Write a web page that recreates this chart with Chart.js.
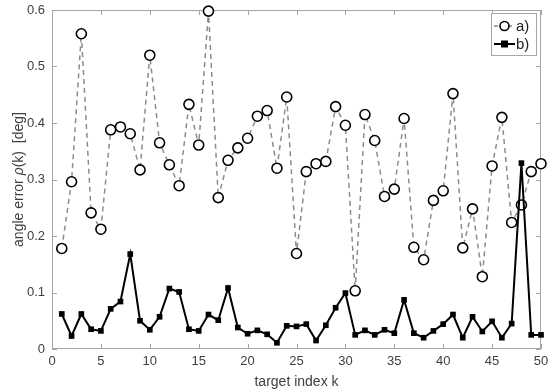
<!DOCTYPE html>
<html><head><meta charset="utf-8">
<script src="https://cdn.jsdelivr.net/npm/chart.js@4.4.1/dist/chart.umd.min.js"></script>
<style>html,body{margin:0;padding:0;background:#fff}#wrap{width:550px;height:391px}</style>
</head><body><div id="wrap"><canvas id="c" width="550" height="391"></canvas></div>
<script>
const targetIndex = Array.from({length:50},(_,i)=>i+1);
const seriesA = [0.178,0.296,0.558,0.241,0.212,0.388,0.393,0.381,0.317,0.520,
                 0.365,0.326,0.289,0.433,0.361,0.598,0.268,0.334,0.356,0.373,
                 0.412,0.422,0.320,0.446,0.169,0.314,0.328,0.332,0.429,0.396,
                 0.103,0.415,0.369,0.270,0.283,0.408,0.180,0.158,0.263,0.280,
                 0.452,0.179,0.248,0.128,0.324,0.410,0.224,0.255,0.314,0.328];
const seriesB = [0.062,0.023,0.062,0.035,0.032,0.071,0.084,0.168,0.050,0.034,
                 0.057,0.107,0.101,0.035,0.032,0.061,0.051,0.108,0.038,0.027,
                 0.033,0.026,0.011,0.041,0.040,0.044,0.015,0.042,0.073,0.099,
                 0.025,0.033,0.025,0.034,0.028,0.087,0.028,0.020,0.032,0.044,
                 0.061,0.020,0.057,0.031,0.049,0.020,0.045,0.329,0.025,0.025];
const seriesNames = ['a)','b)'];
const xTicks = [0,5,10,15,20,25,30,35,40,45,50];
const yTicks = [0,0.1,0.2,0.3,0.4,0.5,0.6];

const FONT = 'Liberation Sans, Arial, sans-serif';
const AXIS_COLOR = '#a6a6a6';
const TEXT_COLOR = '#404040';

const framePlugin = {
  id:'frame',
  beforeDatasetsDraw(chart){
    const {ctx, chartArea:a, scales:{x,y}} = chart;
    ctx.save();
    ctx.strokeStyle = AXIS_COLOR; ctx.lineWidth = 1;
    ctx.strokeRect(a.left+0.5, a.top+0.5, a.right-a.left-1, a.bottom-a.top-1);
    ctx.beginPath();
    const tl = 5;
    xTicks.forEach(v=>{const px=Math.round(x.getPixelForValue(v))+0.5;
      ctx.moveTo(px,a.bottom); ctx.lineTo(px,a.bottom-tl);
      ctx.moveTo(px,a.top); ctx.lineTo(px,a.top+tl);});
    yTicks.forEach(v=>{const py=Math.round(y.getPixelForValue(v))+0.5;
      ctx.moveTo(a.left,py); ctx.lineTo(a.left+tl,py);
      ctx.moveTo(a.right,py); ctx.lineTo(a.right-tl,py);});
    ctx.stroke();
    ctx.restore();
  },
  afterDatasetsDraw(chart){
    const {ctx, chartArea:a} = chart;
    ctx.save();
    // legend box
    const bx=491, by=13, bw=45, bh=42;
    ctx.fillStyle='#fff'; ctx.fillRect(bx,by,bw,bh);
    ctx.strokeStyle=AXIS_COLOR; ctx.lineWidth=1; ctx.strokeRect(bx+0.5,by+0.5,bw,bh);
    let ly = by+13;
    ctx.strokeStyle='#8c8c8c'; ctx.lineWidth=1.5; ctx.setLineDash([4,3]);
    ctx.beginPath(); ctx.moveTo(bx+3,ly); ctx.lineTo(bx+22,ly); ctx.stroke();
    ctx.setLineDash([]);
    ctx.fillStyle='#fff'; ctx.strokeStyle='#000'; ctx.lineWidth=1.6;
    ctx.beginPath(); ctx.arc(bx+13.5,ly,4.5,0,Math.PI*2); ctx.fill(); ctx.stroke();
    ctx.fillStyle='#222'; ctx.font='15px '+FONT; ctx.textBaseline='middle'; ctx.textAlign='left';
    ctx.fillText(seriesNames[0], bx+25, ly+1);
    ly = by+31;
    ctx.strokeStyle='#000'; ctx.lineWidth=2;
    ctx.beginPath(); ctx.moveTo(bx+3,ly); ctx.lineTo(bx+24,ly); ctx.stroke();
    ctx.fillStyle='#000'; ctx.fillRect(bx+10,ly-3.5,7,7);
    ctx.fillStyle='#222';
    ctx.fillText(seriesNames[1], bx+25, ly+1);
    // y title with italic rho
    ctx.translate(19, (a.top+a.bottom)/2);
    ctx.rotate(-Math.PI/2);
    const parts=[['angle error ','14px '],['ρ','italic 14px '],['(k)  [deg]','14px ']];
    let total=0; parts.forEach(p=>{ctx.font=p[1]+FONT; total+=ctx.measureText(p[0]).width;});
    let cx=-total/2; ctx.fillStyle=TEXT_COLOR; ctx.textBaseline='middle';
    parts.forEach(p=>{ctx.font=p[1]+FONT; ctx.fillText(p[0],cx,0); cx+=ctx.measureText(p[0]).width;});
    ctx.restore();
  }
};

new Chart(document.getElementById('c'),{
  type:'line',
  data:{datasets:[
    {label:seriesNames[0], data:targetIndex.map((k,i)=>({x:k,y:seriesA[i]})),
     borderColor:'#8c8c8c', borderWidth:1.5, borderDash:[5,4], pointStyle:'circle',
     pointRadius:5, pointBorderWidth:1.6, pointBorderColor:'#000', pointBackgroundColor:'#fff',
     tension:0, order:1, clip:false},
    {label:seriesNames[1], data:targetIndex.map((k,i)=>({x:k,y:seriesB[i]})),
     borderColor:'#000', borderWidth:2, pointStyle:'rect',
     pointRadius:4, pointBorderWidth:0, pointBackgroundColor:'#000', pointBorderColor:'#000',
     tension:0, order:0, clip:false}
  ]},
  options:{
    responsive:false, animation:false, devicePixelRatio:1,
    layout:{padding:{top:10,right:9,left:0,bottom:0}},
    plugins:{legend:{display:false},tooltip:{enabled:false}},
    scales:{
      x:{type:'linear',min:0,max:50,
         afterBuildTicks:s=>{s.ticks=xTicks.map(v=>({value:v}));},
         afterFit:s=>{s.height=42; s.paddingRight=0; s.paddingLeft=0;},
         grid:{display:false,drawTicks:false}, border:{display:false},
         ticks:{font:{family:FONT,size:13},color:TEXT_COLOR,padding:5,maxRotation:0},
         title:{display:true,text:'target index k',font:{family:FONT,size:14},color:TEXT_COLOR,padding:{top:0,bottom:0}}},
      y:{type:'linear',min:0,max:0.6,
         afterBuildTicks:s=>{s.ticks=yTicks.map(v=>({value:v}));},
         afterFit:s=>{s.width=52; s.paddingTop=0; s.paddingBottom=0;},
         grid:{display:false,drawTicks:false}, border:{display:false},
         ticks:{font:{family:FONT,size:13},color:TEXT_COLOR,padding:7,callback:v=>String(Math.round(v*10)/10)}}
    }
  },
  plugins:[framePlugin]
});
</script></body></html>
